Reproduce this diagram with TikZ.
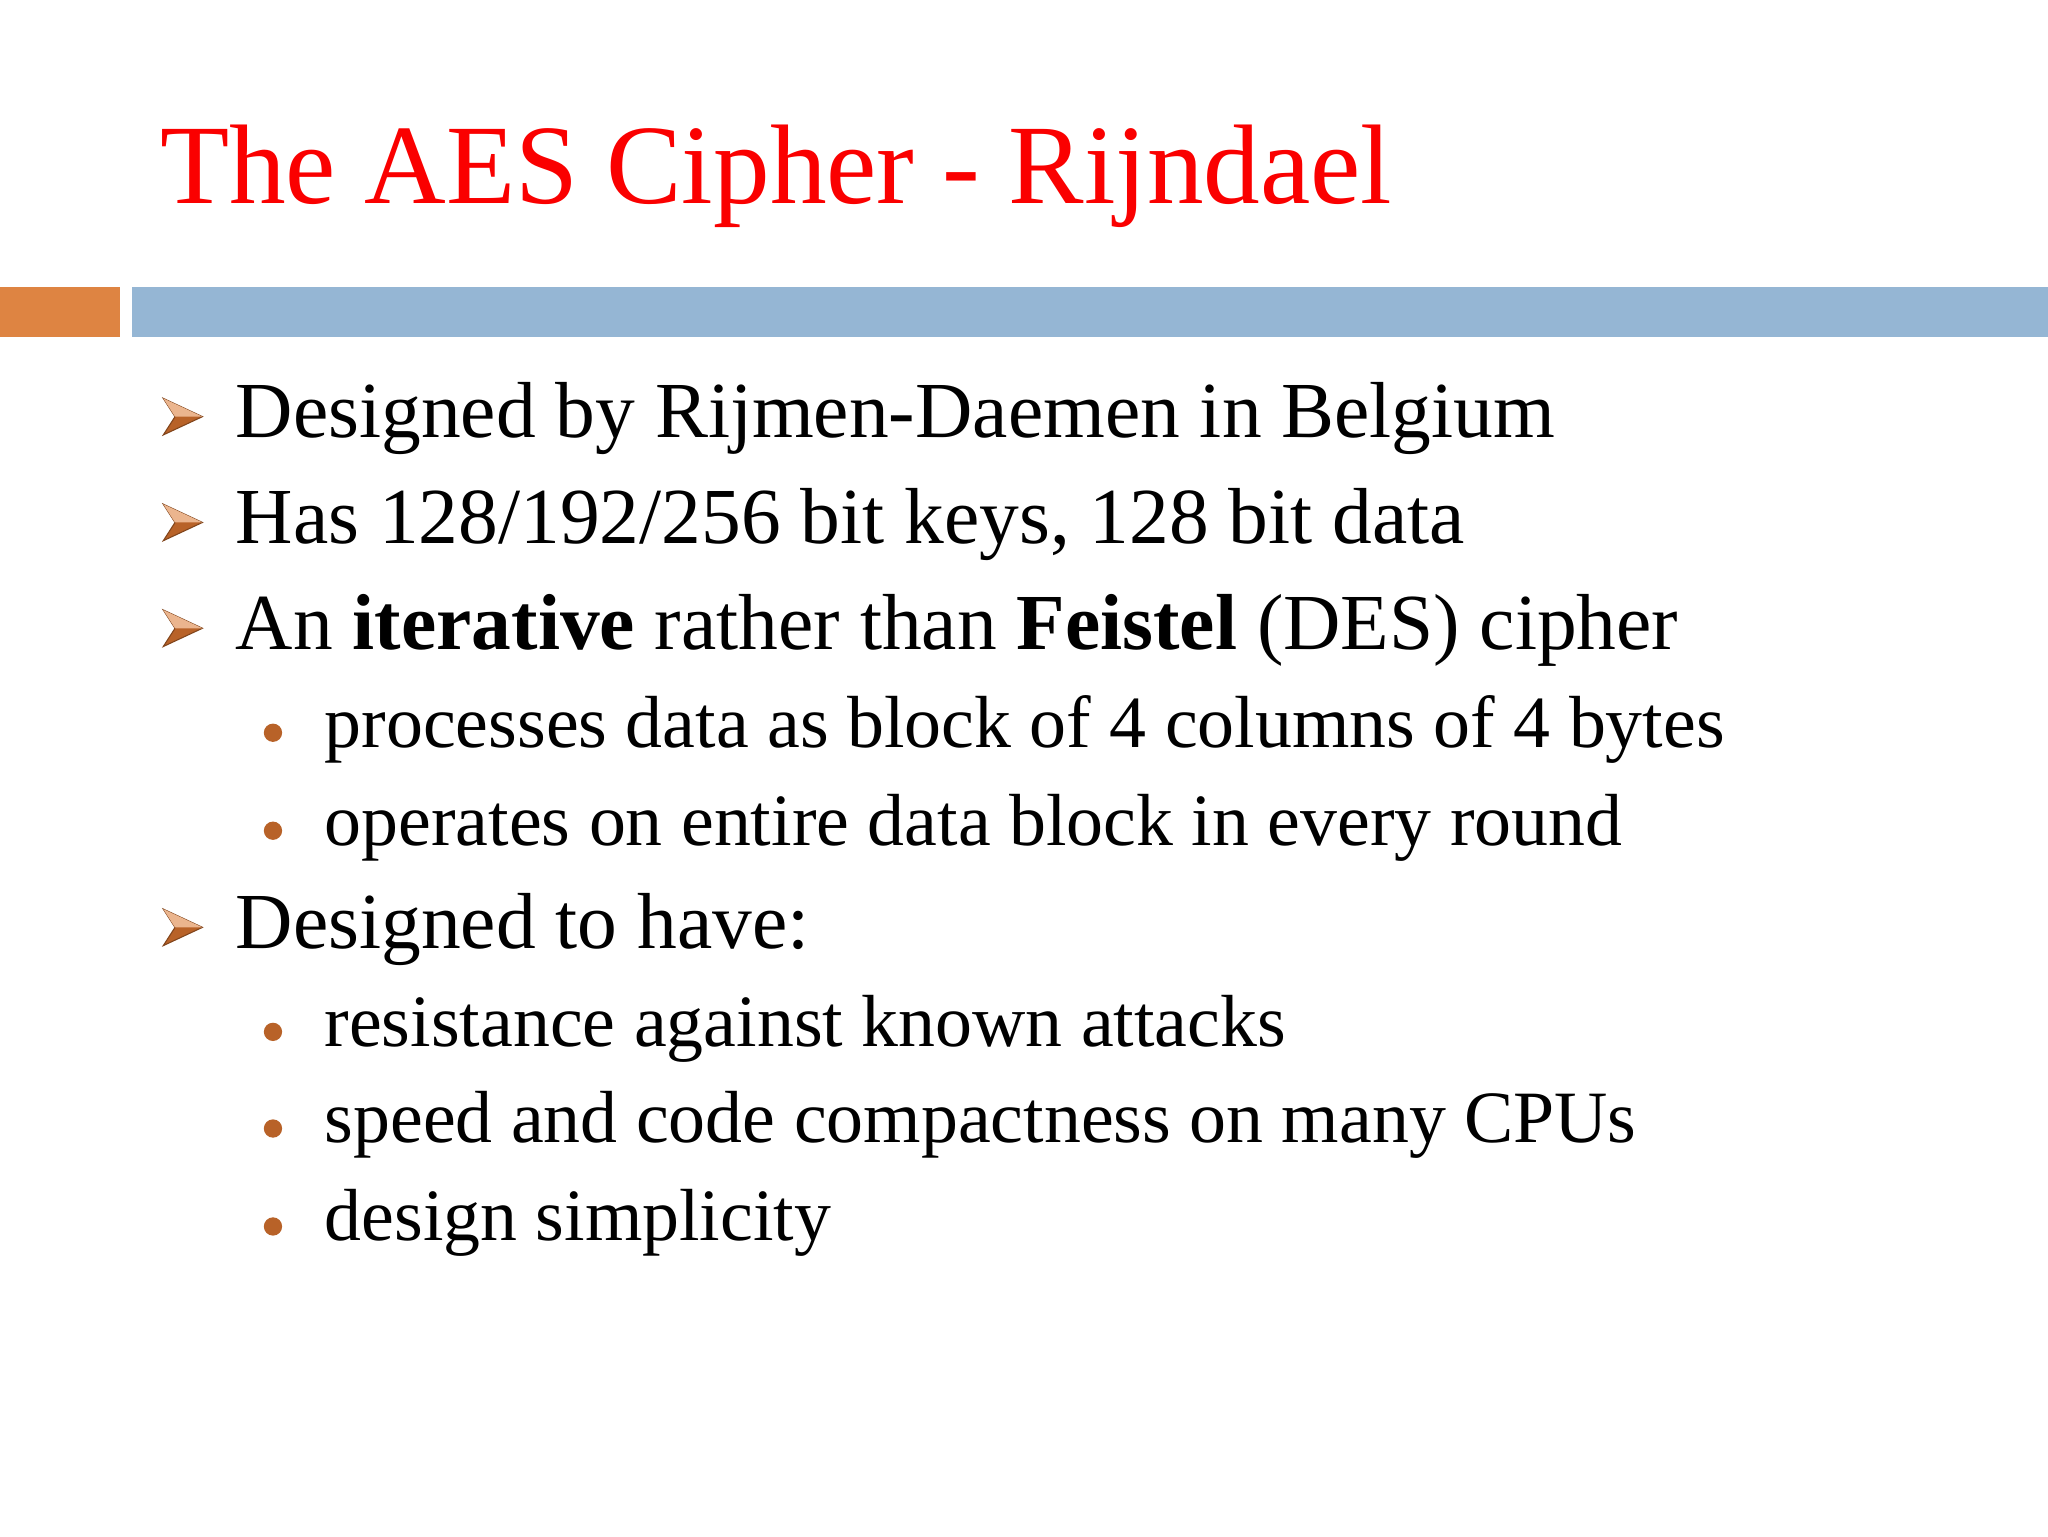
\documentclass[tikz,border=0pt]{standalone}
\usepackage{fontspec}
\setmainfont{Liberation Serif}
\definecolor{orng}{RGB}{222,132,66}
\definecolor{blu}{RGB}{149,182,212}
\definecolor{brn}{RGB}{184,98,40}
\definecolor{ttl}{RGB}{250,0,0}
\begin{document}
\begin{tikzpicture}[x=0.1306mm,y=-0.1306mm,
  lvl1/.style={anchor=base west,font=\fontsize{22.6}{27}\selectfont,inner sep=0pt},
  lvl2/.style={anchor=base west,font=\fontsize{21}{25}\selectfont,inner sep=0pt}]
\fill[white] (0,0) rectangle (1568,1176);
\node[anchor=base west,inner sep=0pt,text=ttl,font=\fontsize{32.2}{36}\selectfont] (title) at (122,156) {The AES Cipher - Rijndael};
\fill[orng] (0,220) rectangle (92,258);
\fill[blu] (101,220) rectangle (1568,258);
\newcommand{\arrb}[1]{\fill[brn,draw=brn!70!black,line width=0.3pt] (125,#1-14) -- (155,#1) -- (125,#1+14) -- (134,#1) -- cycle;\fill[orng!60!white] (125,#1-14) -- (155,#1) -- (134,#1) -- cycle;}
\newcommand{\dotb}[1]{\fill[brn] (209,#1) circle (7);}
\arrb{319}\node[lvl1] (l1) at (180,335) {Designed by Rijmen-Daemen in Belgium};
\arrb{400}\node[lvl1] (l2) at (180,416) {Has 128/192/256 bit keys, 128 bit data};
\arrb{481}\node[lvl1] (l3) at (180,497) {An \textbf{iterative} rather than \textbf{Feistel} (DES) cipher};
\dotb{561}\node[lvl2] (s1) at (248,572) {processes data as block of 4 columns of 4 bytes};
\dotb{636}\node[lvl2] (s2) at (248,647) {operates on entire data block in every round};
\arrb{710}\node[lvl1] (l4) at (180,726) {Designed to have:};
\dotb{790}\node[lvl2] (s3) at (248,801) {resistance against known attacks};
\dotb{864}\node[lvl2] (s4) at (248,875) {speed and code compactness on many CPUs};
\dotb{939}\node[lvl2] (s5) at (248,950) {design simplicity};
\end{tikzpicture}
\end{document}
